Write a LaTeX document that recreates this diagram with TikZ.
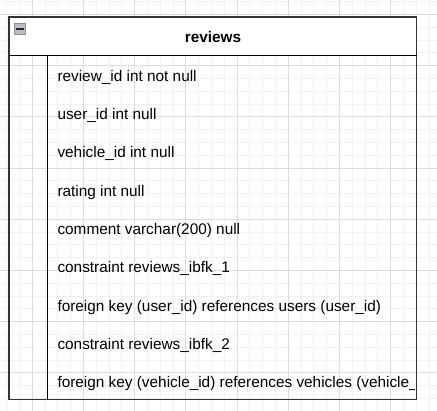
\documentclass[tikz,border=0pt]{standalone}
\usepackage{fontspec}
\setmainfont{Liberation Sans}
\definecolor{minorgrid}{HTML}{F1F1F1}
\definecolor{majorgrid}{HTML}{DCDCDC}
\definecolor{boxline}{HTML}{333333}
\definecolor{iconfill}{HTML}{B9BCC6}
\definecolor{iconline}{HTML}{8A8E99}
\begin{document}
\begin{tikzpicture}[x=1pt,y=-1pt,
  txt/.style={font=\fontsize{15.36}{18}\selectfont, inner sep=0pt, anchor=base west, text=black},
  titletxt/.style={font=\fontsize{15.36}{18}\selectfont\bfseries, inner sep=0pt, anchor=base, text=black},
  minorline/.style={minorgrid, line width=1pt},
  majorline/.style={majorgrid, line width=1pt}]
\useasboundingbox (0,0) rectangle (437,411);
\fill[white] (0,0) rectangle (437,411);
% grid
\foreach \i in {0,...,33} {
  \draw[minorline] ({6.7+12.8*\i},0) -- ({6.7+12.8*\i},411);
}
\foreach \i in {0,...,32} {
  \draw[minorline] (0,{1.7+12.8*\i}) -- (437,{1.7+12.8*\i});
}
\foreach \i in {0,...,7} {
  \draw[majorline] ({32.3+51.2*\i},0) -- ({32.3+51.2*\i},411);
}
\foreach \i in {0,...,7} {
  \draw[majorline] (0,{14.5+51.2*\i}) -- (437,{14.5+51.2*\i});
}
% table
\fill[white] (9,17) rectangle (416.8,55.2);
\node[draw=boxline, line width=1.3pt, inner sep=0pt, minimum width=407.8pt, minimum height=382.5pt] (table) at (212.9,208.2) {};
\coordinate (hl) at (9,55.2);
\coordinate (hr) at (416.8,55.2);
\draw[black, line width=1pt] (hl) -- (hr);
\coordinate (vt) at (47.3,55.2);
\coordinate (vb) at (47.3,399.4);
\draw[black, line width=1pt] (vt) -- (vb);
% collapse icon
\node[draw=iconline, fill=iconfill, line width=0.8pt, inner sep=0pt, minimum width=11pt, minimum height=11pt] (icon) at (19.7,28.8) {};
\draw[black!85, line width=1.8pt] ([xshift=2pt]icon.west) -- ([xshift=-2pt]icon.east);
% title
\node[titletxt] (title) at (213,42.3) {reviews};
% rows
\begin{scope}
\clip (47.3,55.2) rectangle (414.5,399.4);
\node[txt] (r1) at (57.3,81.3) {review\_id int not null};
\node[txt] (r2) at (57.3,119.6) {user\_id int null};
\node[txt] (r3) at (57.3,157.9) {vehicle\_id int null};
\node[txt] (r4) at (57.3,196.2) {rating int null};
\node[txt] (r5) at (57.3,234.5) {comment varchar(200) null};
\node[txt] (r6) at (57.3,272.8) {constraint reviews\_ibfk\_1};
\node[txt] (r7) at (57.3,311.1) {foreign key (user\_id) references users (user\_id)};
\node[txt] (r8) at (57.3,349.4) {constraint reviews\_ibfk\_2};
\node[txt] (r9) at (57.3,387.7) {foreign key (vehicle\_id) references vehicles (vehicle\_id)};
\end{scope}
\end{tikzpicture}
\end{document}
